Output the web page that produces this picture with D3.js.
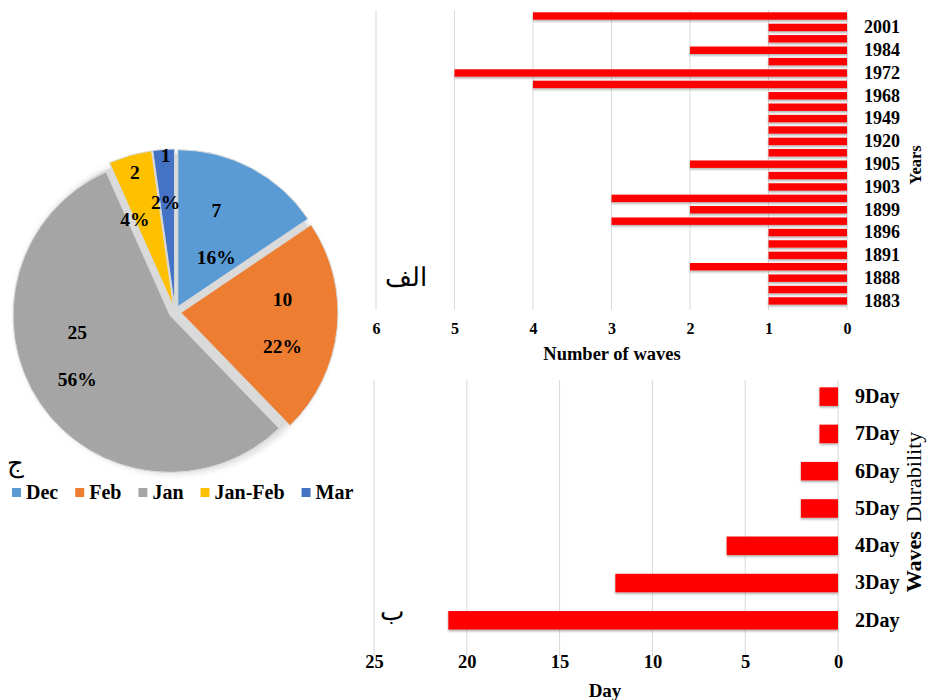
<!DOCTYPE html>
<html>
<head>
<meta charset="utf-8">
<script src="https://cdn.jsdelivr.net/npm/d3@7"></script>
<style>
 body { margin: 0; background: #fff; }
 svg text { font-family: "Liberation Serif", "Times New Roman", "DejaVu Serif", serif; }
</style>
</head>
<body>
<div id="chart"></div>
<script>
 //Top chart: waves per year (bottom to top).
 var years = ["1883", "1885", "1888", "1889", "1891", "1894", "1896", "1898", "1899", "1900",
  "1903", "1904", "1905", "1911", "1920", "1929", "1949", "1964", "1968", "1971",
  "1972", "1976", "1984", "1993", "2001", "2008"];
 var waveCounts = [1, 1, 1, 2, 1, 1, 1, 3, 2, 3, 1, 1, 2, 1, 1, 1, 1, 1, 1, 4, 5, 1, 2, 1, 1, 4];
 var waveTicks = [0, 1, 2, 3, 4, 5, 6];

 //Bottom chart: wave durability.
 var durations = ["2Day", "3Day", "4Day", "5Day", "6Day", "7Day", "9Day"];
 var durationCounts = [21, 12, 6, 2, 2, 1, 1];
 var dayTicks = [0, 5, 10, 15, 20, 25];

 //Pie: months.
 var months = ["Dec", "Feb", "Jan", "Jan-Feb", "Mar"];
 var monthCounts = [7, 10, 25, 2, 1];
 var monthPercents = ["16%", "22%", "56%", "4%", "2%"];
 var monthColors = ["#5b9bd5", "#ed7d31", "#a5a5a5", "#ffc000", "#4472c4"];


 var svg = d3.select("#chart").append("svg").attr("width", 928).attr("height", 700);

 var defs = svg.append("defs");
 var shadow = defs.append("filter").attr("id", "shadow")
  .attr("x", "-5%").attr("y", "-30%").attr("width", "110%").attr("height", "170%");
 shadow.append("feDropShadow").attr("dx", 0).attr("dy", 1.5).attr("stdDeviation", 0.8)
  .attr("flood-color", "#777").attr("flood-opacity", 0.6);

 var pieShadow = defs.append("filter").attr("id", "pieShadow")
  .attr("x", "-10%").attr("y", "-10%").attr("width", "120%").attr("height", "120%");
 pieShadow.append("feGaussianBlur").attr("stdDeviation", 2.5);

 var gridColor = "#d9d9d9";


 // ---------- top chart ----------
 var x1 = d3.scaleLinear().domain([0, 6]).range([847, 376]);
 var y1 = d3.scaleBand().domain(years).range([307, 10]).paddingInner(0.34).paddingOuter(0.2);

 var topChart = svg.append("g");

 topChart.selectAll("line.grid").data(waveTicks).enter().append("line")
  .attr("x1", function(d) { return x1(d); })
  .attr("x2", function(d) { return x1(d); })
  .attr("y1", 10).attr("y2", 310)
  .attr("stroke", gridColor).attr("stroke-width", 1);

 topChart.selectAll("rect").data(waveCounts).enter().append("rect")
  .attr("x", function(d) { return x1(d); })
  .attr("y", function(d, i) { return y1(years[i]); })
  .attr("width", function(d) { return x1(0) - x1(d); })
  .attr("height", y1.bandwidth())
  .attr("fill", "#ff0000")
  .attr("filter", "url(#shadow)");

 var yAxis1 = topChart.append("g").attr("transform", "translate(861,0)")
  .call(d3.axisRight(y1).tickValues(years.filter(function(d, i) { return i % 2 === 0; })).tickSize(0));
 yAxis1.select(".domain").remove();
 yAxis1.selectAll("text").attr("font-size", 18).attr("font-weight", "bold")
  .attr("fill", "#000").attr("font-family", "Liberation Serif");

 var xAxis1 = topChart.append("g").attr("transform", "translate(0,320)")
  .call(d3.axisBottom(x1).tickValues(waveTicks).tickFormat(d3.format("d")).tickSize(0));
 xAxis1.select(".domain").remove();
 xAxis1.selectAll("text").attr("font-size", 16).attr("font-weight", "bold")
  .attr("fill", "#000").attr("font-family", "Liberation Serif");

 topChart.append("text").attr("x", 612).attr("y", 360).attr("text-anchor", "middle")
  .attr("font-size", 18.5).attr("font-weight", "bold").text("Number of waves");

 topChart.append("text").attr("transform", "translate(921,165) rotate(-90)").attr("text-anchor", "middle")
  .attr("font-size", 16.5).attr("font-weight", "bold").text("Years");

 topChart.append("text").attr("x", 406).attr("y", 286).attr("text-anchor", "middle")
  .attr("font-size", 26).attr("font-family", "DejaVu Sans").text("الف");


 // ---------- bottom chart ----------
 var x2 = d3.scaleLinear().domain([0, 25]).range([838, 374]);
 var y2 = d3.scaleBand().domain(durations).range([639, 378]).paddingInner(0.5).paddingOuter(0.25);

 var bottomChart = svg.append("g");

 bottomChart.selectAll("line.grid").data(dayTicks).enter().append("line")
  .attr("x1", function(d) { return x2(d); })
  .attr("x2", function(d) { return x2(d); })
  .attr("y1", 380).attr("y2", 656)
  .attr("stroke", gridColor).attr("stroke-width", 1);

 bottomChart.selectAll("rect").data(durationCounts).enter().append("rect")
  .attr("x", function(d) { return x2(d); })
  .attr("y", function(d, i) { return y2(durations[i]); })
  .attr("width", function(d) { return x2(0) - x2(d); })
  .attr("height", y2.bandwidth())
  .attr("fill", "#ff0000")
  .attr("filter", "url(#shadow)");

 var yAxis2 = bottomChart.append("g").attr("transform", "translate(852,0)")
  .call(d3.axisRight(y2).tickSize(0));
 yAxis2.select(".domain").remove();
 yAxis2.selectAll("text").attr("font-size", 20).attr("font-weight", "bold")
  .attr("fill", "#000").attr("font-family", "Liberation Serif");

 var xAxis2 = bottomChart.append("g").attr("transform", "translate(0,652)")
  .call(d3.axisBottom(x2).tickValues(dayTicks).tickSize(0));
 xAxis2.select(".domain").remove();
 xAxis2.selectAll("text").attr("font-size", 18.5).attr("font-weight", "bold")
  .attr("fill", "#000").attr("font-family", "Liberation Serif");

 bottomChart.append("text").attr("x", 605).attr("y", 697).attr("text-anchor", "middle")
  .attr("font-size", 19).attr("font-weight", "bold").text("Day");

 var wd = bottomChart.append("text").attr("transform", "translate(921,512) rotate(-90)").attr("text-anchor", "middle")
  .attr("font-size", 22);
 wd.append("tspan").attr("font-weight", "bold").text("Waves");
 wd.append("tspan").attr("dx", 9).text("Durability");

 bottomChart.append("text").attr("x", 392).attr("y", 620).attr("text-anchor", "middle")
  .attr("font-size", 26).attr("font-family", "DejaVu Sans").text("ب");


 // ---------- pie ----------
 var cx = 175, cy = 312, radius = 157, explode = 6;
 //label placement for each slice: distance from the centre and angle shift (degrees)
 var labelRadius = [88, 108, 107, 123, 133];
 var labelShift = [0, 0, 10, -3, 0];

 var pieData = d3.pie().sort(null)(monthCounts);
 var arc = d3.arc().innerRadius(0).outerRadius(radius);

 var pie = svg.append("g").attr("transform", "translate(" + cx + "," + cy + ")");

 pie.append("circle").attr("r", radius + 4).attr("cy", 2).attr("fill", "#c8c8c8")
  .attr("opacity", 0.5).attr("filter", "url(#pieShadow)");
 pie.append("circle").attr("r", radius + 1).attr("fill", "#dadada");

 pie.selectAll("path").data(pieData).enter().append("path")
  .attr("d", arc)
  .attr("transform", function(d) {
   var p = d3.pointRadial((d.startAngle + d.endAngle) / 2, explode);
   return "translate(" + p[0] + "," + p[1] + ")";
  })
  .attr("fill", function(d, i) { return monthColors[i]; })
  .attr("stroke", "#d9d9d9").attr("stroke-width", 1);

 var labels = pie.selectAll("g.lab").data(pieData).enter().append("g")
  .attr("transform", function(d, i) {
   var a = (d.startAngle + d.endAngle) / 2 + labelShift[i] * Math.PI / 180;
   var p = d3.pointRadial(a, labelRadius[i]);
   return "translate(" + p[0] + "," + p[1] + ")";
  });
 labels.append("text").attr("y", -17).attr("text-anchor", "middle")
  .attr("font-size", 19.5).attr("font-weight", "bold")
  .text(function(d) { return d.data; });
 labels.append("text").attr("y", 30).attr("text-anchor", "middle")
  .attr("font-size", 19.5).attr("font-weight", "bold")
  .text(function(d, i) { return monthPercents[i]; });

 svg.append("text").attr("x", 15).attr("y", 472).attr("text-anchor", "middle")
  .attr("font-size", 26).attr("font-family", "DejaVu Sans").text("ج");

 //legend
 var legend = svg.append("g").attr("transform", "translate(12,499)");
 var lx = 0;
 months.forEach(function(m, i) {
  var item = legend.append("g").attr("transform", "translate(" + lx + ",0)");
  item.append("rect").attr("x", 0).attr("y", -11).attr("width", 9).attr("height", 9).attr("fill", monthColors[i]);
  var t = item.append("text").attr("x", 14).attr("y", 0).attr("font-size", 20).attr("font-weight", "bold").text(m);
  lx += 14 + t.node().getComputedTextLength() + 17;
 });
</script>
</body>
</html>
